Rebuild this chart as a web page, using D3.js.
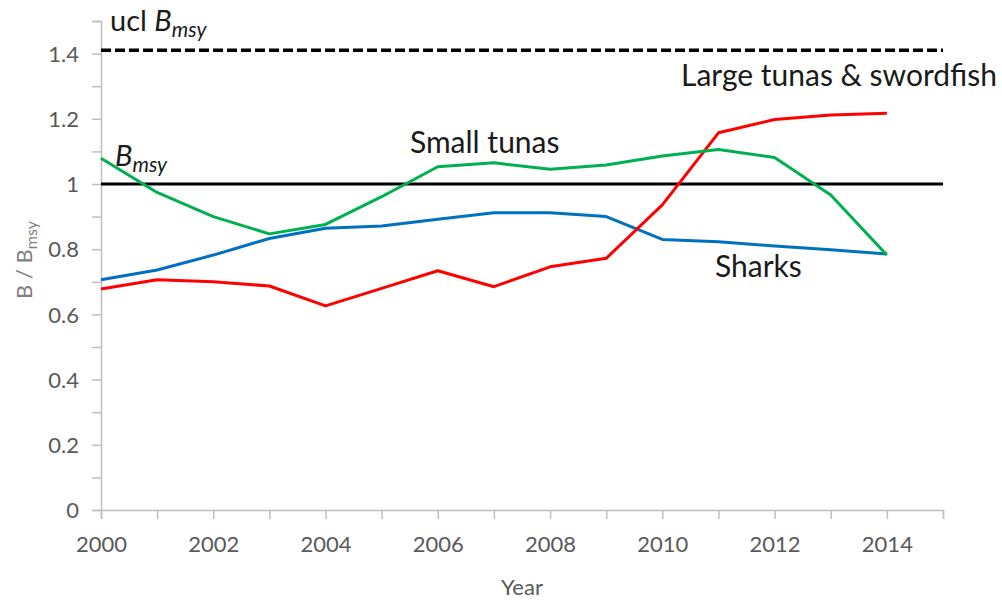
<!DOCTYPE html>
<html><head><meta charset="utf-8">
<script src="https://cdn.jsdelivr.net/npm/d3@7"></script>
<style>
body{margin:0;background:#fff;}
svg{display:block;font-family:Lato, "Open Sans", sans-serif;}
</style></head>
<body><svg id="c" width="1002" height="601"></svg>
<script>
const years = [2000,2001,2002,2003,2004,2005,2006,2007,2008,2009,2010,2011,2012,2013,2014];
const sharks = [0.706,0.736,0.782,0.833,0.864,0.871,0.892,0.912,0.912,0.900,0.830,0.823,0.810,0.798,0.785];
const largeTunas = [0.678,0.706,0.700,0.687,0.626,0.680,0.734,0.685,0.746,0.772,0.936,1.157,1.198,1.212,1.217];
const smallTunas = [1.079,0.974,0.900,0.847,0.876,0.961,1.053,1.065,1.045,1.058,1.086,1.106,1.081,0.966,0.782];
const refBmsy = 1.0;
const refUcl = 1.41;
const xTickLabels = [2000,2002,2004,2006,2008,2010,2012,2014];
const yTickLabels = [0,0.2,0.4,0.6,0.8,1,1.2,1.4];

const svg = d3.select("#c");
const x = d3.scaleLinear().domain([2000,2015]).range([101,943]);
const y = d3.scaleLinear().domain([0,1.5]).range([510,21]);
const axisCol = "#bfbfbf", tickCol = "#595959";

// x axis
const xAxis = d3.axisBottom(x).tickValues(d3.range(2000,2016)).tickSize(9).tickFormat(d => xTickLabels.includes(d) ? d : "");
const gx = svg.append("g").attr("transform","translate(0,510)").call(xAxis);
gx.select(".domain").attr("stroke",axisCol).attr("stroke-width",1.5);
gx.selectAll(".tick line").attr("stroke",axisCol).attr("stroke-width",1.5);
gx.selectAll(".tick text").attr("fill",tickCol).attr("font-size",22).attr("dy",null).attr("y",42).attr("font-family","Lato");

// y axis
const yAxis = d3.axisLeft(y).tickValues(d3.range(0,16).map(i=>i/10)).tickSize(9)
  .tickFormat(d => { const r = Math.round(d*10); return r%2===0 && yTickLabels.includes(r/10) ? String(r/10) : ""; });
const gy = svg.append("g").attr("transform","translate(101,0)").call(yAxis);
gy.select(".domain").attr("stroke",axisCol).attr("stroke-width",1.5);
gy.selectAll(".tick line").attr("stroke",axisCol).attr("stroke-width",1.5);
gy.selectAll(".tick text").attr("fill",tickCol).attr("font-size",22).attr("x",-22).attr("dy","0.35em").attr("font-family","Lato");

// reference lines
svg.append("line").attr("x1",x(2000)).attr("x2",x(2015)).attr("y1",y(refUcl)).attr("y2",y(refUcl))
  .attr("stroke","#000").attr("stroke-width",3.5).attr("stroke-dasharray","10,4");
svg.append("line").attr("x1",x(2000)).attr("x2",x(2015)).attr("y1",y(refBmsy)).attr("y2",y(refBmsy))
  .attr("stroke","#000").attr("stroke-width",3);

const line = d3.line().x((d,i)=>x(years[i])).y(d=>y(d));
[[sharks,"#0070c0"],[largeTunas,"#ff0000"],[smallTunas,"#00b050"]].forEach(([s,c])=>{
  svg.append("path").datum(s).attr("d",line).attr("fill","none").attr("stroke",c).attr("stroke-width",3).attr("stroke-linejoin","round");
});

// labels
const lab = (tx,ty,parts,size)=>{
  const t = svg.append("text").attr("x",tx).attr("y",ty).attr("font-size",size).attr("fill","#1a1a1a");
  parts.forEach(p=>{
    const ts = t.append("tspan").text(p.t);
    if(p.i) ts.attr("font-style","italic");
    if(p.sub) ts.attr("font-size",size*0.72).attr("dy",size*0.22);
  });
  return t;
};
lab(110,31,[{t:"ucl "},{t:"B",i:1},{t:"msy",i:1,sub:1}],29);
lab(115,166,[{t:"B",i:1},{t:"msy",i:1,sub:1}],29);
lab(410,153,[{t:"Small tunas"}],30);
lab(681,86,[{t:"Large tunas & swordfish"}],30);
lab(715,277,[{t:"Sharks"}],30);

svg.append("text").attr("x",522).attr("y",595).attr("text-anchor","middle").attr("font-size",22).attr("fill",tickCol).text("Year");
const yl = svg.append("text").attr("transform","translate(32,260) rotate(-90)").attr("text-anchor","middle").attr("font-size",22).attr("fill","#7f7f7f");
yl.append("tspan").text("B / B");
yl.append("tspan").text("msy").attr("font-size",16).attr("dy",5);
</script></body></html>
